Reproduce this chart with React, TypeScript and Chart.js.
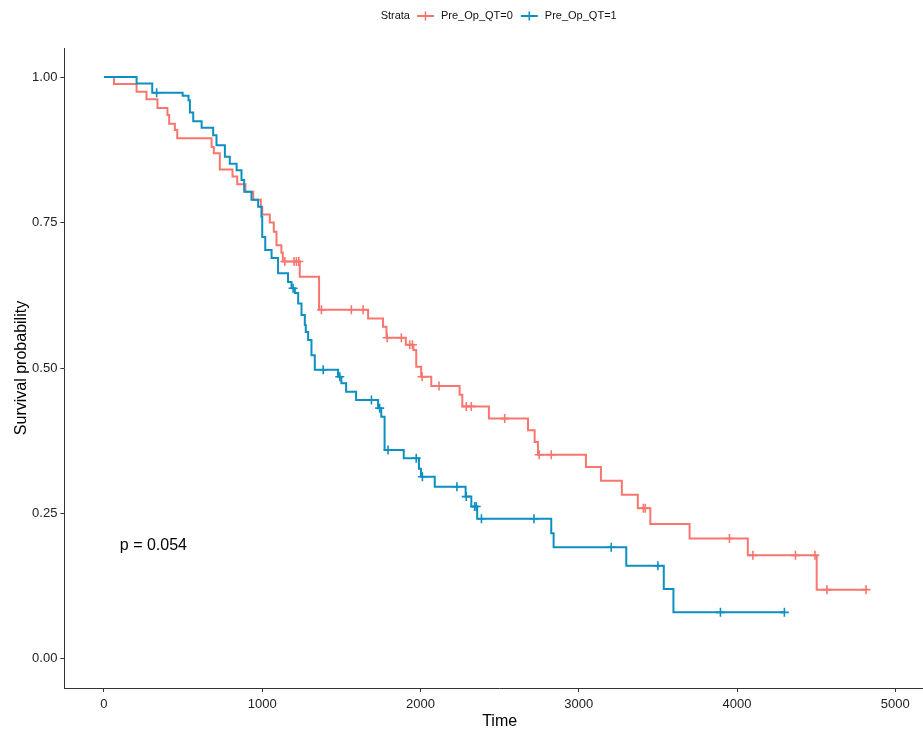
import React, { useEffect, useRef } from 'react';
import { Chart, registerables } from 'chart.js';

Chart.register(...registerables);

const FONT = "'Liberation Sans', Arial, sans-serif";

const legendTitle = 'Strata';
const groupLabels = ['Pre_Op_QT=0', 'Pre_Op_QT=1'];
const xTitle = 'Time';
const yTitle = 'Survival probability';
const pValueText = 'p = 0.054';
const xTicks = [0, 1000, 2000, 3000, 4000, 5000];
const yTicks = [0, 0.25, 0.5, 0.75, 1];

// Pre_Op_QT=0 (red): event times and survival after each event
const redTimes = [0, 63, 206, 269, 338, 401, 412, 448, 463, 680, 694, 732, 812, 842, 894, 943, 991, 1000, 1048, 1073, 1090, 1121, 1130, 1237, 1359, 1669, 1763, 1785, 1907, 1955, 1973, 2004, 2068, 2247, 2264, 2432, 2679, 2721, 2742, 3045, 3140, 3272, 3373, 3452, 3700, 4068, 4503];
const redSurv = [1.0, 0.988, 0.975, 0.962, 0.947, 0.935, 0.92, 0.909, 0.895, 0.88, 0.869, 0.841, 0.829, 0.816, 0.803, 0.789, 0.777, 0.764, 0.75, 0.734, 0.711, 0.698, 0.683, 0.657, 0.6, 0.585, 0.571, 0.552, 0.54, 0.531, 0.502, 0.485, 0.469, 0.454, 0.434, 0.413, 0.393, 0.373, 0.351, 0.33, 0.306, 0.282, 0.259, 0.232, 0.207, 0.178, 0.119];
const redCensor = [1143, 1201, 1216, 1231, 1374, 1563, 1637, 1789, 1879, 1932, 1949, 2010, 2117, 2289, 2321, 2532, 2750, 2826, 3408, 3420, 3952, 4100, 4369, 4492, 4568, 4815];

// Pre_Op_QT=1 (blue)
const blueTimes = [0, 206, 305, 497, 534, 543, 564, 617, 690, 711, 764, 795, 838, 869, 886, 932, 974, 995, 1000, 1019, 1059, 1100, 1163, 1185, 1206, 1227, 1248, 1269, 1275, 1290, 1311, 1332, 1479, 1500, 1530, 1593, 1732, 1752, 1773, 1894, 1990, 2003, 2090, 2285, 2321, 2358, 2826, 2841, 3300, 3537, 3598];
const blueSurv = [1.0, 0.989, 0.973, 0.968, 0.96, 0.939, 0.924, 0.913, 0.9, 0.883, 0.863, 0.851, 0.84, 0.823, 0.803, 0.789, 0.777, 0.76, 0.725, 0.703, 0.689, 0.663, 0.648, 0.637, 0.629, 0.611, 0.591, 0.574, 0.562, 0.548, 0.522, 0.497, 0.485, 0.474, 0.459, 0.445, 0.431, 0.416, 0.359, 0.345, 0.327, 0.313, 0.296, 0.279, 0.262, 0.241, 0.216, 0.192, 0.16, 0.12, 0.08];
const blueCensor = [333, 1195, 1385, 1490, 1690, 1742, 1795, 1973, 2012, 2230, 2289, 2342, 2352, 2385, 2717, 3205, 3500, 3895, 4299];

const RED = '#F8766D';
const BLUE = '#0C8FC1';

function stepPoints(times: number[], surv: number[], censor: number[]) {
  const pts = times.map((t, i) => ({ x: t, y: surv[i] }));
  const end = Math.max(times[times.length - 1], ...censor);
  pts.push({ x: end, y: surv[surv.length - 1] });
  return pts;
}

function survAt(times: number[], surv: number[], t: number) {
  let s = surv[0];
  for (let i = 0; i < times.length; i++) if (times[i] <= t) s = surv[i];
  return s;
}

function censorPoints(times: number[], surv: number[], censor: number[]) {
  return censor.map((t) => ({ x: t, y: survAt(times, surv, t) }));
}

function drawCross(ctx: CanvasRenderingContext2D, x: number, y: number, r: number, color: string) {
  ctx.save();
  ctx.strokeStyle = color;
  ctx.lineWidth = 1.6;
  ctx.beginPath();
  ctx.moveTo(x - r, y);
  ctx.lineTo(x + r, y);
  ctx.moveTo(x, y - r);
  ctx.lineTo(x, y + r);
  ctx.stroke();
  ctx.restore();
}

const overlayPlugin = {
  id: 'overlay',
  afterDraw(chart: any) {
    const { ctx, chartArea, scales } = chart;
    ctx.save();
    // legend
    ctx.font = `11px ${FONT}`;
    ctx.fillStyle = '#111';
    ctx.textBaseline = 'middle';
    ctx.textAlign = 'left';
    const keyW = 17;
    const wTitle = ctx.measureText(legendTitle).width;
    const w0 = ctx.measureText(groupLabels[0]).width;
    const w1 = ctx.measureText(groupLabels[1]).width;
    const total = wTitle + 7 + keyW + 7 + w0 + 8 + keyW + 7 + w1;
    const cx = (chartArea.left + chartArea.right) / 2 - 1;
    const ly = 16;
    let x = cx - total / 2;
    ctx.fillText(legendTitle, x, ly);
    x += wTitle + 7;
    const colors = [RED, BLUE];
    const widths = [w0, w1];
    for (let i = 0; i < 2; i++) {
      ctx.save();
      ctx.strokeStyle = colors[i];
      ctx.lineWidth = 2;
      ctx.beginPath();
      ctx.moveTo(x, ly);
      ctx.lineTo(x + keyW, ly);
      ctx.stroke();
      ctx.restore();
      drawCross(ctx, x + keyW / 2, ly, 4.5, colors[i]);
      x += keyW + 7;
      ctx.fillStyle = '#111';
      ctx.fillText(groupLabels[i], x, ly);
      x += widths[i] + 8;
    }
    // p-value
    ctx.font = `16px ${FONT}`;
    ctx.fillStyle = '#000';
    ctx.textAlign = 'left';
    ctx.textBaseline = 'middle';
    ctx.fillText(pValueText, scales.x.getPixelForValue(100), scales.y.getPixelForValue(0.194));
    ctx.restore();
  },
};

export default function App() {
  const ref = useRef<HTMLCanvasElement | null>(null);
  useEffect(() => {
    document.body.style.margin = '0';
    const canvas = ref.current!;
    const chart = new Chart(canvas, {
      type: 'line',
      data: {
        datasets: [
          {
            label: groupLabels[1],
            data: stepPoints(blueTimes, blueSurv, blueCensor),
            stepped: true,
            borderColor: BLUE,
            borderWidth: 2,
            pointRadius: 0,
            fill: false,
          } as any,
          {
            label: groupLabels[1] + ' censor',
            data: censorPoints(blueTimes, blueSurv, blueCensor),
            showLine: false,
            pointStyle: 'cross',
            pointRadius: 4.5,
            pointBorderWidth: 1.6,
            pointBorderColor: BLUE,
            borderColor: BLUE,
          } as any,
          {
            label: groupLabels[0],
            data: stepPoints(redTimes, redSurv, redCensor),
            stepped: true,
            borderColor: RED,
            borderWidth: 2,
            pointRadius: 0,
            fill: false,
          } as any,
          {
            label: groupLabels[0] + ' censor',
            data: censorPoints(redTimes, redSurv, redCensor),
            showLine: false,
            pointStyle: 'cross',
            pointRadius: 4.5,
            pointBorderWidth: 1.6,
            pointBorderColor: RED,
            borderColor: RED,
          } as any,
        ],
      },
      options: {
        responsive: false,
        maintainAspectRatio: false,
        animation: false,
        events: [],
        layout: { padding: { left: 0, right: 5.4, top: 48, bottom: 0 } },
        plugins: { legend: { display: false }, tooltip: { enabled: false } },
        scales: {
          x: {
            type: 'linear',
            min: -250,
            max: 5250,
            afterBuildTicks: (s: any) => {
              s.ticks = xTicks.map((v) => ({ value: v }));
            },
            afterFit: (s: any) => {
              s.height = 43;
            },
            grid: { display: true, drawOnChartArea: false, drawTicks: true, tickLength: 4, color: '#333', lineWidth: 1 },
            border: { display: true, color: '#333', width: 1 },
            ticks: {
              font: { size: 13, family: FONT },
              color: '#222',
              padding: 5,
              maxRotation: 0,
              autoSkip: false,
              callback: (v: any) => String(v),
            },
            title: {
              display: true,
              text: xTitle,
              font: { size: 16, family: FONT },
              color: '#000',
              padding: { top: 0, bottom: 0 },
            },
          },
          y: {
            type: 'linear',
            min: -0.05,
            max: 1.05,
            afterBuildTicks: (s: any) => {
              s.ticks = yTicks.map((v) => ({ value: v }));
            },
            afterFit: (s: any) => {
              s.width = 64.4;
            },
            grid: { display: true, drawOnChartArea: false, drawTicks: true, tickLength: 4, color: '#333', lineWidth: 1 },
            border: { display: true, color: '#333', width: 1 },
            ticks: {
              font: { size: 13, family: FONT },
              color: '#222',
              padding: 3,
              autoSkip: false,
              callback: (v: any) => Number(v).toFixed(2),
            },
            title: {
              display: true,
              text: yTitle,
              font: { size: 16, family: FONT },
              color: '#000',
              padding: { top: 12, bottom: 0 },
            },
          },
        },
      },
      plugins: [overlayPlugin],
    } as any);
    return () => chart.destroy();
  }, []);

  return (
    <div style={{ position: 'fixed', left: 0, top: 0, width: 923, height: 731, overflow: 'hidden', background: '#fff' }}>
      <canvas ref={ref} width={941} height={731} style={{ display: 'block' }} />
    </div>
  );
}
